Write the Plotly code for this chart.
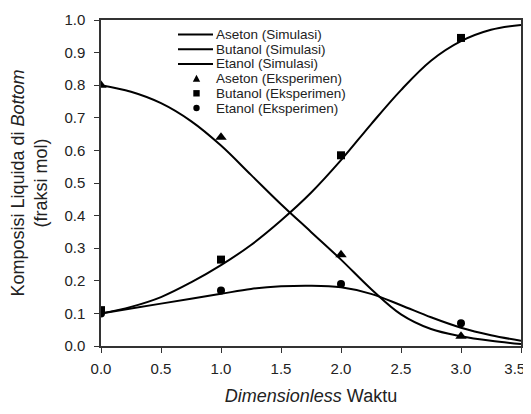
import plotly.graph_objects as go

# Simulated curves
x_sim = [0.0, 0.25, 0.5, 0.75, 1.0, 1.25, 1.5, 1.75, 2.0, 2.25, 2.5, 2.75, 3.0, 3.25, 3.5]
aseton_sim = [0.80, 0.78, 0.745, 0.69, 0.615, 0.525, 0.435, 0.35, 0.265, 0.175, 0.097, 0.052, 0.03, 0.016, 0.006]
butanol_sim = [0.10, 0.12, 0.15, 0.195, 0.248, 0.31, 0.385, 0.47, 0.57, 0.68, 0.785, 0.875, 0.935, 0.97, 0.985]
etanol_sim = [0.10, 0.115, 0.13, 0.145, 0.16, 0.175, 0.183, 0.185, 0.18, 0.16, 0.125, 0.088, 0.056, 0.033, 0.016]

# Experimental points
x_exp = [0, 1, 2, 3]
aseton_exp = [0.80, 0.64, 0.28, 0.03]
butanol_exp = [0.11, 0.265, 0.585, 0.945]
etanol_exp = [0.10, 0.17, 0.19, 0.07]

x_ticks = [0.0, 0.5, 1.0, 1.5, 2.0, 2.5, 3.0, 3.5]
y_ticks = [0.0, 0.1, 0.2, 0.3, 0.4, 0.5, 0.6, 0.7, 0.8, 0.9, 1.0]

legend_labels = ["Aseton (Simulasi)", "Butanol (Simulasi)", "Etanol (Simulasi)",
                 "Aseton (Eksperimen)", "Butanol (Eksperimen)", "Etanol (Eksperimen)"]
legend_kinds = ["line", "line", "line", "triangle", "square", "circle"]

FONT = "Liberation Sans, Arial, sans-serif"
TXT = "#222"
line_style = dict(color="black", width=2)

fig = go.Figure()
for ys, nm in [(aseton_sim, legend_labels[0]), (butanol_sim, legend_labels[1]), (etanol_sim, legend_labels[2])]:
    fig.add_trace(go.Scatter(x=x_sim, y=ys, mode="lines", line=line_style,
                             line_shape="spline", name=nm, showlegend=False))
for ys, nm, sym, sz in [(aseton_exp, legend_labels[3], "triangle-up", 10),
                        (butanol_exp, legend_labels[4], "square", 8),
                        (etanol_exp, legend_labels[5], "circle", 8)]:
    fig.add_trace(go.Scatter(x=x_exp, y=ys, mode="markers", name=nm, showlegend=False,
                             marker=dict(symbol=sym, size=sz, color="black", line=dict(width=0))))

# Compact legend (layout elements in paper coordinates)
PW, PH = 420.0, 326.0          # plot area size in px
lx0, lx1 = 77 / PW, 112 / PW   # legend line sample
mx = 95.5 / PW                 # legend marker centre
tx = 114 / PW                  # legend text start
y0, dy = 311.5 / PH, 14.7 / PH  # first row, row step
ms_x, ms_y = 3.2 / PW, 3.2 / PH
for i, (lab, kind) in enumerate(zip(legend_labels, legend_kinds)):
    yy = y0 - i * dy
    fig.add_annotation(x=tx, y=yy, xref="paper", yref="paper", text=lab, showarrow=False,
                       xanchor="left", yanchor="middle", borderpad=0,
                       font=dict(family=FONT, size=13.5, color=TXT))
    if kind == "line":
        fig.add_shape(type="line", xref="paper", yref="paper", x0=lx0, x1=lx1, y0=yy, y1=yy,
                      line=dict(color="black", width=2))
    elif kind == "square":
        fig.add_shape(type="rect", xref="paper", yref="paper", x0=mx - ms_x, x1=mx + ms_x,
                      y0=yy - ms_y, y1=yy + ms_y, fillcolor="black", line=dict(width=0))
    elif kind == "circle":
        fig.add_shape(type="circle", xref="paper", yref="paper", x0=mx - ms_x, x1=mx + ms_x,
                      y0=yy - ms_y, y1=yy + ms_y, fillcolor="black", line=dict(width=0))
    else:
        path = (f"M {mx - 1.15 * ms_x} {yy - ms_y} L {mx + 1.15 * ms_x} {yy - ms_y} "
                f"L {mx} {yy + 1.2 * ms_y} Z")
        fig.add_shape(type="path", xref="paper", yref="paper", path=path,
                      fillcolor="black", line=dict(width=0))

axis_common = dict(
    showgrid=False, zeroline=False, showline=True, linecolor="#333", linewidth=1.5,
    mirror=True, ticks="outside", ticklen=5, tickcolor="#333", tickwidth=1,
    tickfont=dict(family=FONT, size=15, color=TXT), automargin=False,
    ticklabeloverflow="allow",
)

# x tick texts; the last one is padded so it stays inside the window at the right edge
x_ticktext = [f"{v:.1f}" for v in x_ticks]
x_ticktext[-1] = x_ticktext[-1] + "\u00a0\u00a0\u00a0"

# The page body has an 8 px margin; the figure fits inside the window without scrolling.
fig.update_layout(
    width=523, height=398,
    margin=dict(l=93, r=10, t=12, b=60),
    paper_bgcolor="white", plot_bgcolor="white",
    font=dict(family=FONT, color=TXT),
    xaxis=dict(range=[0, 3.5], tickvals=x_ticks, ticktext=x_ticktext,
               ticklabelstandoff=3,
               title=dict(text="<i>Dimensionless</i> Waktu", font=dict(family=FONT, size=18, color=TXT),
                          standoff=21),
               **axis_common),
    yaxis=dict(range=[0, 1.0], tickvals=y_ticks, ticktext=[f"{v:.1f}" for v in y_ticks],
               ticklabelstandoff=6,
               title=dict(text="Komposisi Liquida di <i>Bottom</i><br>(fraksi mol)",
                          font=dict(family=FONT, size=18, color=TXT), standoff=15),
               **axis_common),
    showlegend=False,
)

fig.write_html("out.html")
